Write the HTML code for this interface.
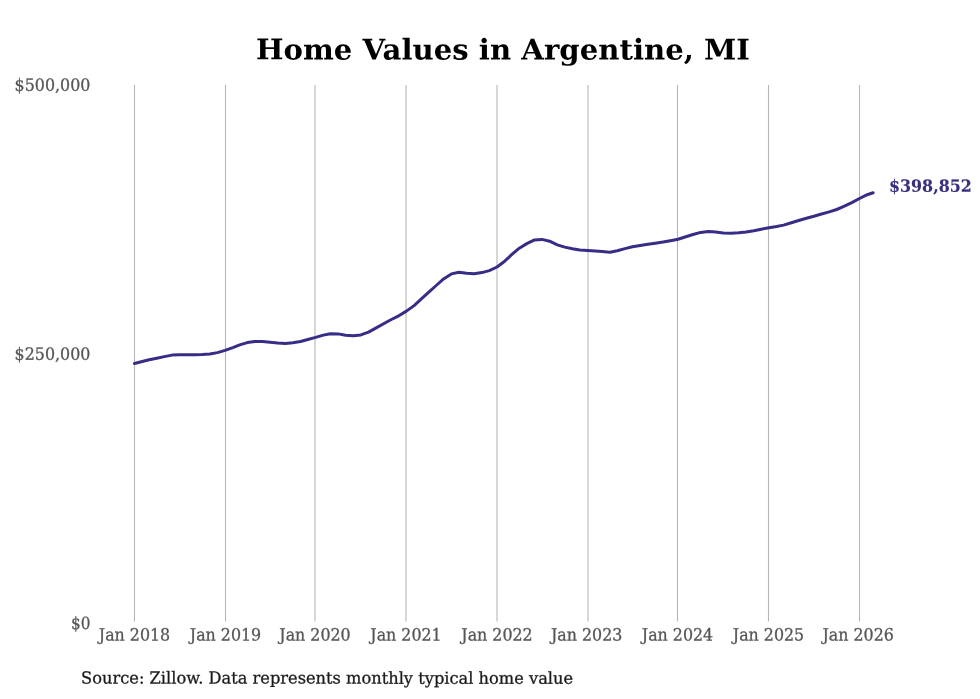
<!DOCTYPE html>
<html lang="en">
<head>
<meta charset="utf-8">
<title>Home Values in Argentine, MI</title>
<style>
html,body{margin:0;padding:0;background:#fff;}
body{width:980px;height:699px;overflow:hidden;font-family:"DejaVu Serif","Liberation Serif",serif;}
svg{display:block;}
svg text{font-family:"DejaVu Serif","Liberation Serif",serif;text-rendering:geometricPrecision;}
.title{font-size:28.5px;font-weight:bold;fill:#000;}
.yt,.xt{font-size:16.9px;fill:#555;stroke:#555;stroke-width:0.3px;}
.grid line{stroke:#b6b6b6;stroke-width:1.1;}
.series{fill:none;stroke:#372d86;stroke-width:3.0;stroke-linecap:round;stroke-linejoin:round;}
.endlabel{font-size:16.9px;font-weight:bold;fill:#38307e;stroke:#38307e;stroke-width:0.15px;}
.source{font-size:16.5px;fill:#1a1a1a;stroke:#1a1a1a;stroke-width:0.3px;}
</style>
</head>
<body>
<svg width="980" height="699" viewBox="0 0 980 699">
<rect width="980" height="699" fill="#ffffff"/>
<text class="title" transform="translate(503.00,59.50) skewY(0.03)" x="-247.00" y="0" textLength="494.00" lengthAdjust="spacingAndGlyphs">Home Values in Argentine, MI</text>
<g class="grid">
<line x1="134.5" y1="85" x2="134.5" y2="621.4"/>
<line x1="225.5" y1="85" x2="225.5" y2="621.4"/>
<line x1="315.0" y1="85" x2="315.0" y2="621.4"/>
<line x1="406.0" y1="85" x2="406.0" y2="621.4"/>
<line x1="497.0" y1="85" x2="497.0" y2="621.4"/>
<line x1="588.0" y1="85" x2="588.0" y2="621.4"/>
<line x1="677.5" y1="85" x2="677.5" y2="621.4"/>
<line x1="768.5" y1="85" x2="768.5" y2="621.4"/>
<line x1="859.5" y1="85" x2="859.5" y2="621.4"/>
</g>
<g class="ytick">
<text class="yt" transform="translate(52.50,90.80) skewY(0.03)" x="-37.90" y="0" textLength="75.80" lengthAdjust="spacingAndGlyphs">$500,000</text>
<text class="yt" transform="translate(52.50,359.80) skewY(0.03)" x="-37.90" y="0" textLength="75.80" lengthAdjust="spacingAndGlyphs">$250,000</text>
<text class="yt" transform="translate(80.65,628.80) skewY(0.03)" x="-9.75" y="0" textLength="19.50" lengthAdjust="spacingAndGlyphs">$0</text>
</g>
<g class="xtick">
<text class="xt" transform="translate(134.50,640.40) skewY(0.03)" x="-35.70" y="0" textLength="71.40" lengthAdjust="spacingAndGlyphs">Jan 2018</text>
<text class="xt" transform="translate(225.50,640.40) skewY(0.03)" x="-35.70" y="0" textLength="71.40" lengthAdjust="spacingAndGlyphs">Jan 2019</text>
<text class="xt" transform="translate(315.00,640.40) skewY(0.03)" x="-35.70" y="0" textLength="71.40" lengthAdjust="spacingAndGlyphs">Jan 2020</text>
<text class="xt" transform="translate(406.00,640.40) skewY(0.03)" x="-35.70" y="0" textLength="71.40" lengthAdjust="spacingAndGlyphs">Jan 2021</text>
<text class="xt" transform="translate(497.00,640.40) skewY(0.03)" x="-35.70" y="0" textLength="71.40" lengthAdjust="spacingAndGlyphs">Jan 2022</text>
<text class="xt" transform="translate(586.60,640.40) skewY(0.03)" x="-35.70" y="0" textLength="71.40" lengthAdjust="spacingAndGlyphs">Jan 2023</text>
<text class="xt" transform="translate(677.50,640.40) skewY(0.03)" x="-35.70" y="0" textLength="71.40" lengthAdjust="spacingAndGlyphs">Jan 2024</text>
<text class="xt" transform="translate(768.50,640.40) skewY(0.03)" x="-35.70" y="0" textLength="71.40" lengthAdjust="spacingAndGlyphs">Jan 2025</text>
<text class="xt" transform="translate(858.10,640.40) skewY(0.03)" x="-35.70" y="0" textLength="71.40" lengthAdjust="spacingAndGlyphs">Jan 2026</text>
</g>
<path class="series" d="M134.5,363.5 L142.2,361.5 L149.1,359.8 L156.8,358.2 L164.3,356.6 L172.0,355.1 L179.4,354.7 L187.1,354.7 L194.8,354.8 L202.2,354.6 L209.9,354.0 L217.4,352.6 L225.1,350.4 L232.8,347.6 L239.7,344.9 L247.4,342.6 L254.8,341.5 L262.5,341.4 L270.0,342.2 L277.7,343.1 L285.4,343.6 L292.8,342.8 L300.5,341.5 L307.9,339.5 L315.6,337.4 L323.3,335.1 L330.5,333.7 L338.2,333.9 L345.6,335.3 L353.3,335.8 L360.8,334.9 L368.5,332.1 L376.2,327.9 L383.6,323.7 L391.3,319.5 L398.8,315.8 L406.4,311.1 L414.1,305.6 L421.1,299.2 L428.8,292.1 L436.2,285.5 L443.9,278.7 L451.4,273.9 L459.0,272.2 L466.7,273.2 L474.2,273.8 L481.9,272.6 L489.3,270.6 L497.0,267.0 L504.7,261.2 L511.6,254.7 L519.3,248.2 L526.8,243.6 L534.5,239.9 L541.9,239.4 L549.6,241.2 L557.3,244.9 L564.7,247.1 L572.4,248.7 L579.9,250.0 L587.6,250.5 L595.2,251.0 L602.2,251.5 L609.9,252.2 L617.3,250.8 L625.0,248.6 L632.5,246.8 L640.2,245.4 L647.9,244.2 L655.3,243.2 L663.0,242.1 L670.4,240.8 L678.1,239.3 L685.8,236.8 L693.0,234.5 L700.7,232.4 L708.1,231.5 L715.8,232.1 L723.3,232.9 L731.0,233.2 L738.7,232.8 L746.1,232.1 L753.8,230.8 L761.2,229.2 L768.9,227.7 L776.6,226.5 L783.6,225.1 L791.3,222.8 L798.7,220.5 L806.4,218.3 L813.9,216.3 L821.5,214.0 L829.2,211.9 L836.7,209.5 L844.4,206.2 L851.8,202.6 L859.5,198.5 L867.2,194.7 L873.1,192.8"/>
<text class="endlabel" transform="translate(930.40,191.80) skewY(0.03)" x="-41.40" y="0" textLength="82.80" lengthAdjust="spacingAndGlyphs">$398,852</text>
<text class="source" transform="translate(327.10,683.60) skewY(0.03)" x="-246.00" y="0" textLength="492.00" lengthAdjust="spacingAndGlyphs">Source: Zillow. Data represents monthly typical home value</text>
</svg>
</body>
</html>
